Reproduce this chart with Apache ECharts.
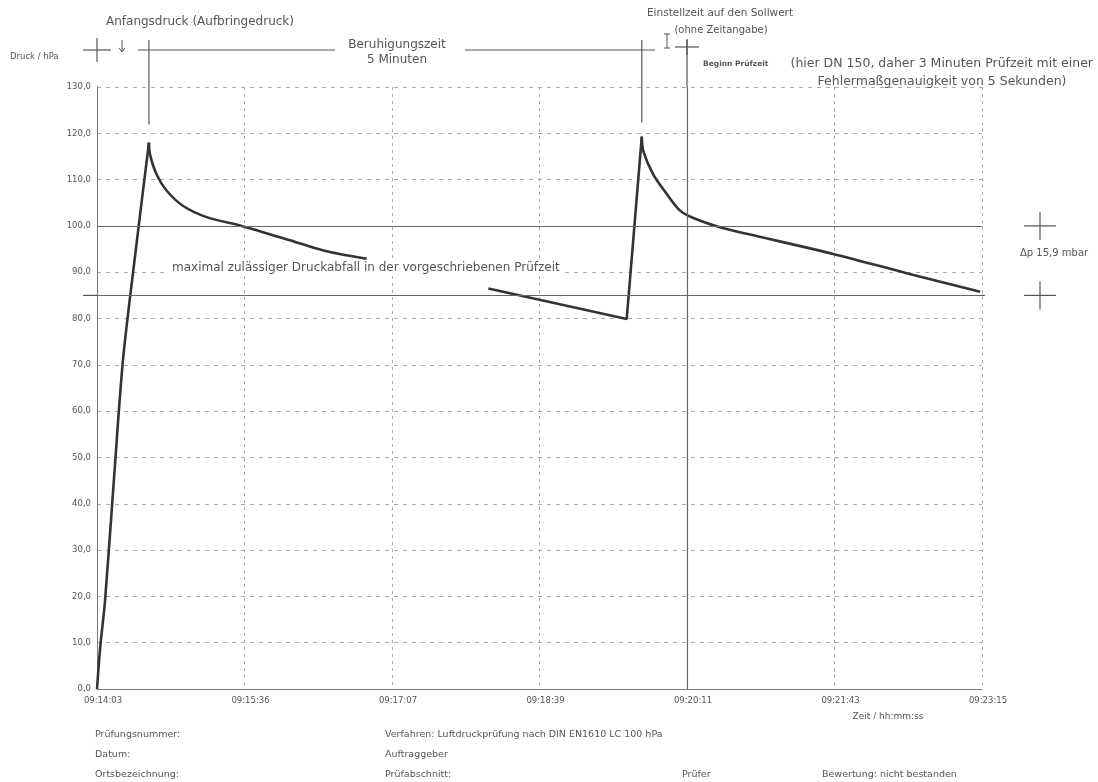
<!DOCTYPE html>
<html>
<head>
<meta charset="utf-8">
<script src="https://cdn.jsdelivr.net/npm/echarts@6/dist/echarts.min.js"></script>
<style>
  html, body { margin: 0; padding: 0; background: #fff; }
  #box { width: 1098px; height: 782px; }
</style>
</head>
<body>
<div id="box"></div>
<script>
// Zeitachse: Sekunden ab 09:14:03, Teilung 92 s
var timeLabels = ['09:14:03', '09:15:36', '09:17:07', '09:18:39', '09:20:11', '09:21:43', '09:23:15'];

// 1. Aufbringen (Sekunden, hPa)
var rise1 = [[0, 0], [2, 9], [5, 19], [10.5, 45], [16.2, 71], [23.1, 91.7], [32.4, 118]];
// Beruhigung nach dem 1. Aufbringen
var fall1 = [
    [32.4, 118], [33.1, 115.4], [37.2, 111.1], [43.5, 107.6], [53.8, 104.3],
    [68.4, 101.9], [91.3, 99.9], [120.4, 96.9], [141.2, 94.7], [168.2, 92.9]
];
// Abfall vor dem Nachpumpen, Nachpumpen
var drop2 = [[244.1, 86.5], [330.4, 79.9], [339.8, 119.3]];
// Beruhigung und Prüfzeit
var fall2 = [
    [339.8, 119.3], [340.8, 116.1], [347, 111.1], [355.4, 106.9], [363.7, 103.3],
    [372, 101.7], [388.6, 99.7], [405.3, 98.3], [459.8, 93.9], [509.3, 89.4], [550.8, 85.8]
];

var refLevels = [100, 85];     // Prüfdruck / zulässiger Enddruck
var startTest = 368;           // Beginn Prüfzeit (09:20:11)
var peakTimes = [32.4, 339.8]; // Anfangsdruck / Einstellzeit

var textColor = '#555';
var lineColor = '#777';
var fontName = 'DejaVu Sans, Liberation Sans, sans-serif';

var box = document.getElementById('box');
var chart = echarts.init(box);

function curve(data, smooth) {
    return {
        type: 'line',
        data: data,
        symbol: 'none',
        smooth: smooth,
        lineStyle: { color: '#333', width: 2.6 }
    };
}

var option = {
    animation: false,
    textStyle: { fontFamily: fontName, color: textColor },
    grid: { left: 97, right: 116, top: 87, bottom: 93 },
    xAxis: {
        type: 'value',
        min: 0,
        max: 552,
        interval: 92,
        axisLine: { lineStyle: { color: lineColor, width: 1 } },
        axisTick: { show: false },
        axisLabel: {
            fontSize: 8.5,
            color: textColor,
            margin: 7,
            padding: [0, 0, 0, 12],
            formatter: function (v) { return timeLabels[Math.round(v / 92)] || ''; }
        },
        splitLine: { show: true, lineStyle: { color: '#aaa', type: [3, 4], width: 1 } }
    },
    yAxis: {
        type: 'value',
        min: 0,
        max: 130,
        interval: 10,
        axisLine: { show: true, lineStyle: { color: lineColor, width: 1 } },
        axisTick: { show: false },
        axisLabel: {
            fontSize: 8.5,
            color: textColor,
            margin: 6,
            formatter: function (v) { return v.toFixed(1).replace('.', ','); }
        },
        splitLine: { show: true, lineStyle: { color: '#aaa', type: [4, 5], width: 1 } }
    },
    series: [
        {
            type: 'line',
            data: rise1,
            symbol: 'none',
            smooth: 0.3,
            lineStyle: { color: '#333', width: 2.6 },
            markLine: {
                silent: true,
                symbol: 'none',
                label: { show: false },
                lineStyle: { color: '#666', type: 'solid', width: 1.2 },
                data: [
                    { yAxis: refLevels[0] },
                    { yAxis: refLevels[1] },
                    { xAxis: startTest }
                ]
            }
        },
        curve(fall1, 0.3),
        curve(drop2, false),
        curve(fall2, 0.3)
    ]
};

chart.setOption(option);

// Beschriftungen und Markierungen außerhalb der Zeichenfläche
var px = function (x, y) { return chart.convertToPixel({ gridIndex: 0 }, [x, y]); };
var yTop = px(0, 130)[1];
var p1 = px(peakTimes[0], 118);
var p2 = px(peakTimes[1], 119.3);
var pS = px(startTest, 0);
var pL = px(0, 0);
var r1 = px(552, refLevels[0]);
var r2 = px(552, refLevels[1]);

function line(x1, y1, x2, y2, w) {
    return { type: 'line', shape: { x1: x1, y1: y1, x2: x2, y2: y2 },
             style: { stroke: '#555', lineWidth: w || 1.2 }, silent: true };
}
function cross(x, y, h, v) {
    return [line(x - h, y, x + h, y), line(x, y - v, x, y + v)];
}
function txt(x, y, s, size, align, weight, bg) {
    var st = { text: s, fontSize: size, fill: textColor, align: align || 'left',
               verticalAlign: 'middle', fontWeight: weight || 'normal', fontFamily: fontName };
    if (bg) { st.backgroundColor = '#fff'; st.padding = [1, 3]; }
    return { type: 'text', x: x, y: y, silent: true, style: st };
}

var g = [];
// Kopfbereich: Beruhigungszeit
g = g.concat(cross(pL[0], 50, 14, 12));
g.push(line(122, 40, 122, 52, 1));
g.push(line(119, 48, 122, 52, 1), line(125, 48, 122, 52, 1));
g.push(line(p1[0], 40, p1[0], p1[1] - 18));
g.push(line(138, 50, 335, 50));
g.push(line(465, 50, 655, 50));
g.push(line(p2[0], 40, p2[0], p2[1] - 14));
g.push(line(667, 34, 667, 48, 1));
g.push(line(664, 34, 670, 34, 1), line(664, 48, 670, 48, 1));
g = g.concat(cross(pS[0], 47, 12, 8));
g.push(line(pS[0], 40, pS[0], yTop));

// Rechts: Δp-Markierung
g = g.concat(cross(1040, r1[1], 16, 14));
g = g.concat(cross(1040, r2[1], 16, 14));
g.push(line(980, r2[1], 985, r2[1]));
g.push(line(83, r2[1], pL[0], r2[1]));

// Texte
g.push(txt(106, 22, 'Anfangsdruck (Aufbringedruck)', 12));
g.push(txt(397, 45, 'Beruhigungszeit', 12, 'center'));
g.push(txt(397, 60, '5 Minuten', 12, 'center'));
g.push(txt(720, 13, 'Einstellzeit auf den Sollwert', 10.5, 'center'));
g.push(txt(721, 30, '(ohne Zeitangabe)', 10, 'center'));
g.push(txt(10, 57, 'Druck / hPa', 8.5));
g.push(txt(703, 64, 'Beginn Prüfzeit', 7.5, 'left', 'bold'));
g.push(txt(1093, 64, '(hier DN 150, daher 3 Minuten Prüfzeit mit einer', 12.5, 'right'));
g.push(txt(942, 82, 'Fehlermaßgenauigkeit von 5 Sekunden)', 12.5, 'center'));
g.push(txt(169, 268, 'maximal zulässiger Druckabfall in der vorgeschriebenen Prüfzeit', 12, 'left', 'normal', true));
g.push(txt(1020, 253, 'Δp 15,9 mbar', 10));
g.push(txt(888, 717, 'Zeit / hh:mm:ss', 9, 'center'));

g.push(txt(95, 735, 'Prüfungsnummer:', 9.5));
g.push(txt(95, 755, 'Datum:', 9.5));
g.push(txt(95, 775, 'Ortsbezeichnung:', 9.5));
g.push(txt(385, 735, 'Verfahren: Luftdruckprüfung nach DIN EN1610 LC 100 hPa', 9.5));
g.push(txt(385, 755, 'Auftraggeber', 9.5));
g.push(txt(385, 775, 'Prüfabschnitt:', 9.5));
g.push(txt(682, 775, 'Prüfer', 9.5));
g.push(txt(822, 775, 'Bewertung: nicht bestanden', 9.5));

chart.setOption({ graphic: g });
</script>
</body>
</html>
